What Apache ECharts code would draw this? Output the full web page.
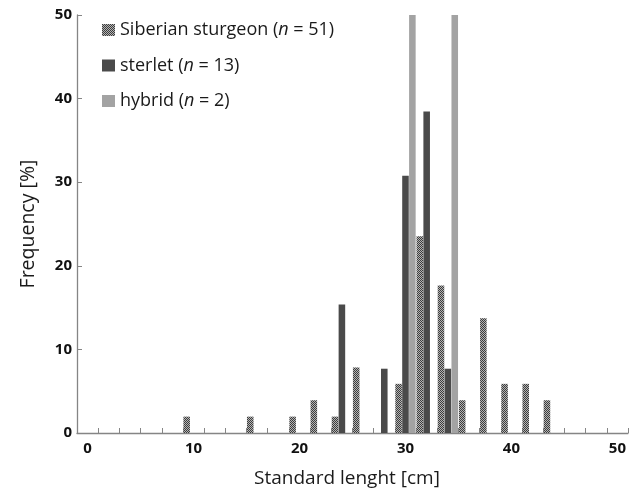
<!DOCTYPE html>
<html>
<head>
<meta charset="utf-8">
<script src="https://cdn.jsdelivr.net/npm/echarts@6/dist/echarts.min.js"></script>
<style>
html,body{margin:0;padding:0;background:#fff;}
#chart{width:639px;height:494px;}
</style>
</head>
<body>
<div id="chart"></div>
<script>
// Size classes (cm), 2 cm bins
var categories = ['0','2','4','6','8','10','12','14','16','18','20','22','24','26','28','30','32','34','36','38','40','42','44','46','48','50'];
// Frequencies [%]
var siberian = [0,0,0,0,0,1.96,0,0,1.96,0,1.96,3.92,1.96,7.84,0,5.88,23.53,17.65,3.92,13.73,5.88,5.88,3.92,0,0,0];
var sterlet  = [0,0,0,0,0,0,0,0,0,0,0,0,15.38,0,7.69,30.77,38.46,7.69,0,0,0,0,0,0,0,0];
var hybrid   = [0,0,0,0,0,0,0,0,0,0,0,0,0,0,0,50,0,50,0,0,0,0,0,0,0,0];
var seriesNames = ['Siberian sturgeon', 'sterlet', 'hybrid'];
var seriesN = [51, 13, 2];
var yTicks = [0, 10, 20, 30, 40, 50];

function makePattern(){
  var c = document.createElement('canvas');
  c.width = 4; c.height = 4;
  var g = c.getContext('2d');
  g.fillStyle = '#b4b4b4';
  g.fillRect(0,0,4,4);
  g.fillStyle = '#3c3c3c';
  for (var i = 0; i < 4; i++) {
    g.fillRect(i, i, 1, 1);
    g.fillRect(i, (i + 2) % 4, 1, 1);
  }
  return c;
}
var hatch = { image: makePattern(), repeat: 'repeat' };

var chart = echarts.init(document.getElementById('chart'));
var font = '"Open Sans", Lato, sans-serif';
var nameByKey = {};
seriesNames.forEach(function(n, i){ nameByKey[n] = seriesN[i]; });

chart.setOption({
  animation: false,
  backgroundColor: '#fff',
  grid: { left: 77, right: 11, top: 15, bottom: 61, containLabel: false },
  legend: {
    orient: 'vertical',
    left: 102, top: 21,
    padding: 0,
    itemWidth: 13, itemHeight: 12,
    itemGap: 17.5,
    icon: 'rect',
    data: seriesNames,
    formatter: function(name){
      return '{a|' + name + ' (}{i|n}{a| = ' + nameByKey[name] + ')}';
    },
    textStyle: {
      fontFamily: font, fontSize: 18, color: '#1a1a1a',
      rich: {
        a: { fontFamily: font, fontSize: 18, color: '#1a1a1a', lineHeight: 21 },
        i: { fontFamily: font, fontSize: 18, color: '#1a1a1a', fontStyle: 'italic', lineHeight: 21 }
      }
    }
  },
  xAxis: {
    type: 'category',
    data: categories,
    boundaryGap: true,
    name: 'Standard lenght [cm]',
    nameLocation: 'middle',
    nameGap: 36,
    nameTextStyle: { fontFamily: font, fontSize: 19, color: '#1a1a1a', padding: [0, 11, 0, 0] },
    axisLine: { lineStyle: { color: '#858585', width: 1.3 } },
    axisTick: { show: true, inside: true, length: 5, interval: 0, alignWithLabel: false, lineStyle: { color: '#858585' } },
    axisLabel: { interval: 4, margin: 8, fontFamily: font, fontSize: 15, fontWeight: 'bold', color: '#111' },
    splitLine: { show: false }
  },
  yAxis: {
    type: 'value',
    min: yTicks[0], max: yTicks[yTicks.length - 1], interval: 10,
    name: 'Frequency [%]',
    nameLocation: 'middle',
    nameGap: 39,
    nameRotate: 90,
    nameTextStyle: { fontFamily: font, fontSize: 19.5, color: '#1a1a1a' },
    axisLine: { show: true, lineStyle: { color: '#858585', width: 1.3 } },
    axisTick: { show: true, inside: true, length: 5, lineStyle: { color: '#858585' } },
    axisLabel: { margin: 5, fontFamily: font, fontSize: 15, fontWeight: 'bold', color: '#111' },
    splitLine: { show: false }
  },
  series: [
    { name: seriesNames[0], type: 'bar', data: siberian, barGap: '5%', barCategoryGap: '4%', itemStyle: { color: hatch } },
    { name: seriesNames[1], type: 'bar', data: sterlet, barGap: '5%', barCategoryGap: '4%', itemStyle: { color: '#4a4a4a' } },
    { name: seriesNames[2], type: 'bar', data: hybrid, barGap: '5%', barCategoryGap: '4%', itemStyle: { color: '#a3a3a3' } }
  ]
});
</script>
</body>
</html>
